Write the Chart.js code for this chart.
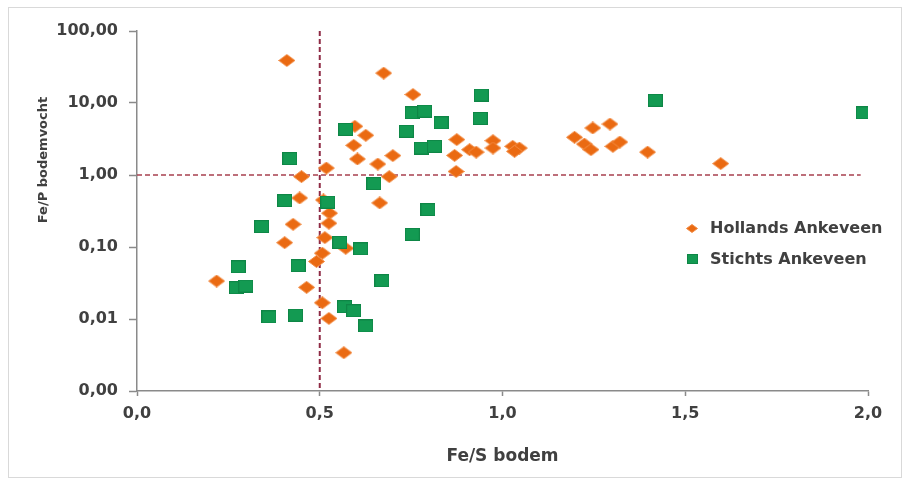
<!DOCTYPE html>
<html lang="nl">
<head>
  <meta charset="UTF-8" />
  <title>Fe/P bodemvocht vs Fe/S bodem</title>
  <style>
    html, body { margin: 0; padding: 0; background: #ffffff; }
    #wrap { width: 905px; height: 480px; position: relative; }
  </style>
</head>
<body>
  <div id="wrap"><canvas id="chart" width="905" height="480"></canvas></div>

  <script src="https://cdn.jsdelivr.net/npm/chart.js"></script>
  <script>
    // Gegevens
    const hollandsX = [0.41, 0.675, 0.755, 0.596, 0.626, 0.593, 0.603, 0.659, 0.70, 0.518, 0.45, 0.69,
      0.875, 0.869, 0.873, 0.91, 0.928, 0.974, 0.974, 1.028, 1.046, 1.033, 1.197, 1.247, 1.294, 1.224,
      1.242, 1.302, 1.321, 1.397, 1.597, 0.445, 0.664, 0.51, 0.527, 0.525, 0.427, 0.514, 0.404, 0.571,
      0.507, 0.491, 0.218, 0.464, 0.507, 0.525, 0.566];
    const hollandsY = [39, 26, 13.1, 4.75, 3.56, 2.58, 1.67, 1.42, 1.86, 1.25, 0.95, 0.95,
      3.1, 1.87, 1.12, 2.25, 2.08, 3.0, 2.37, 2.5, 2.37, 2.13, 3.34, 4.5, 5.1, 2.69,
      2.25, 2.5, 2.87, 2.08, 1.44, 0.48, 0.41, 0.45, 0.295, 0.214, 0.207, 0.135, 0.115, 0.096,
      0.082, 0.063, 0.0337, 0.0275, 0.0168, 0.0102, 0.0034];

    const stichtsX = [0.571, 0.418, 0.648, 0.404, 0.522, 0.942, 0.753, 0.787, 0.832, 0.939, 0.737,
      0.778, 0.814, 0.796, 0.753, 1.418, 1.987, 0.341, 0.555, 0.612, 0.277, 0.441, 0.272, 0.298,
      0.67, 0.568, 0.593, 0.361, 0.434, 0.626];
    const stichtsY = [4.3, 1.69, 0.76, 0.44, 0.42, 12.9, 7.3, 7.7, 5.3, 6.1, 4.05,
      2.37, 2.5, 0.33, 0.15, 10.9, 7.3, 0.192, 0.116, 0.094, 0.053, 0.055, 0.0272, 0.0287,
      0.034, 0.0148, 0.013, 0.0107, 0.0113, 0.008];

    // Grenswaarden (stippellijnen)
    const grensFeS = 0.5;
    const grensFeP = 1;
    const grensLijnX = [0, 1.98];
    const grensLijnY = [100, 0.001];

    // Aslabels
    const xTicks = [0, 0.5, 1.0, 1.5, 2.0];
    const yTicks = [0.001, 0.01, 0.1, 1, 10, 100];

    const oranje = '#EA6A12';
    const groen = '#139A52';
    const tekstKleur = '#404040';
    const asKleur = '#8a8a8a';
    const lijnKleur = '#8E2B45';

    // Markers als kleine canvasjes (ruit iets breder dan hoog)
    function maakRuit(w, h, vul, rand) {
      const c = document.createElement('canvas');
      c.width = w; c.height = h;
      const g = c.getContext('2d');
      g.beginPath();
      g.moveTo(w / 2, 0.5);
      g.lineTo(w - 0.5, h / 2);
      g.lineTo(w / 2, h - 0.5);
      g.lineTo(0.5, h / 2);
      g.closePath();
      g.fillStyle = vul;
      g.fill();
      g.strokeStyle = rand;
      g.lineWidth = 1;
      g.stroke();
      return c;
    }

    function maakVierkant(w, h, vul, rand) {
      const c = document.createElement('canvas');
      c.width = w; c.height = h;
      const g = c.getContext('2d');
      g.fillStyle = vul;
      g.fillRect(0, 0, w, h);
      g.strokeStyle = rand;
      g.lineWidth = 1;
      g.strokeRect(0.5, 0.5, w - 1, h - 1);
      return c;
    }

    const ruit = maakRuit(17, 13, oranje, '#F28C45');
    const vierkant = maakVierkant(15, 13, groen, '#0E8646');
    const ruitKlein = maakRuit(12, 9, oranje, '#F28C45');
    const vierkantKlein = maakVierkant(11, 10, groen, '#0E8646');

    const toPoints = (xs, ys) => xs.map((x, i) => ({ x: x, y: ys[i] }));
    const komma = (v, d) => Number(v).toFixed(d).replace('.', ',');

    // Kader, y-astitel en legenda
    const extras = {
      id: 'extras',
      beforeDraw(chart) {
        const ctx = chart.ctx;
        ctx.save();
        ctx.fillStyle = '#ffffff';
        ctx.fillRect(0, 0, chart.width, chart.height);
        ctx.strokeStyle = '#d9d9d9';
        ctx.lineWidth = 1;
        ctx.strokeRect(8.5, 7.5, 893, 470);
        ctx.restore();
      },
      afterDraw(chart) {
        const ctx = chart.ctx;
        const a = chart.chartArea;
        ctx.save();
        // y-astitel
        ctx.translate(44, 160);
        ctx.rotate(-Math.PI / 2);
        ctx.font = 'bold 13px "DejaVu Sans"';
        ctx.fillStyle = tekstKleur;
        ctx.textAlign = 'center';
        ctx.textBaseline = 'middle';
        ctx.fillText('Fe/P bodemvocht', 0, 0);
        ctx.restore();

        // legenda
        ctx.save();
        ctx.font = 'bold 16px "DejaVu Sans"';
        ctx.fillStyle = tekstKleur;
        ctx.textAlign = 'left';
        ctx.textBaseline = 'middle';
        const lx = a.left + 555;
        const items = [
          { img: ruitKlein, label: chart.data.datasets[1].label, y: a.top + 197 },
          { img: vierkantKlein, label: chart.data.datasets[0].label, y: a.top + 228 }
        ];
        items.forEach(it => {
          ctx.drawImage(it.img, Math.round(lx - it.img.width / 2), Math.round(it.y - it.img.height / 2));
          ctx.fillText(it.label, lx + 18, it.y + 1);
        });
        ctx.restore();
      }
    };

    new Chart(document.getElementById('chart'), {
      type: 'scatter',
      data: {
        datasets: [
          {
            label: 'Stichts Ankeveen',
            data: toPoints(stichtsX, stichtsY),
            pointStyle: vierkant,
            backgroundColor: groen,
            borderColor: groen,
            order: 0
          },
          {
            label: 'Hollands Ankeveen',
            data: toPoints(hollandsX, hollandsY),
            pointStyle: ruit,
            backgroundColor: oranje,
            borderColor: oranje,
            order: 1
          },
          {
            type: 'line',
            label: 'grens Fe/S',
            data: [{ x: grensFeS, y: grensLijnY[0] }, { x: grensFeS, y: grensLijnY[1] }],
            borderColor: lijnKleur,
            borderWidth: 2,
            borderDash: [5, 3],
            pointRadius: 0,
            fill: false,
            order: 3
          },
          {
            type: 'line',
            label: 'grens Fe/P',
            data: [{ x: grensLijnX[0], y: grensFeP }, { x: grensLijnX[1], y: grensFeP }],
            borderColor: '#A8404F',
            borderWidth: 1.5,
            borderDash: [5, 3],
            pointRadius: 0,
            fill: false,
            order: 2
          }
        ]
      },
      options: {
        responsive: false,
        animation: false,
        events: [],
        layout: { padding: { left: 24, top: 31, right: 37, bottom: 10 } },
        plugins: {
          legend: { display: false },
          tooltip: { enabled: false }
        },
        scales: {
          x: {
            type: 'linear',
            min: 0,
            max: 2,
            afterBuildTicks: s => { s.ticks = xTicks.map(v => ({ value: v })); },
            afterFit: s => { s.height = 79; },
            ticks: {
              callback: v => komma(v, 1),
              font: { family: '"DejaVu Sans"', size: 16, weight: 'bold' },
              color: tekstKleur,
              padding: 8,
              maxRotation: 0
            },
            grid: {
              drawOnChartArea: false,
              drawTicks: true,
              tickLength: 5,
              tickColor: asKleur,
              tickWidth: 1.5
            },
            border: { color: asKleur, width: 1.5 },
            title: {
              display: true,
              text: 'Fe/S bodem',
              font: { family: '"DejaVu Sans"', size: 17, weight: 'bold' },
              color: tekstKleur,
              padding: { top: 0, bottom: 3 }
            }
          },
          y: {
            type: 'logarithmic',
            min: 0.001,
            max: 100,
            afterBuildTicks: s => { s.ticks = yTicks.map(v => ({ value: v })); },
            afterFit: s => { s.width = 113; },
            ticks: {
              callback: v => komma(v, 2),
              font: { family: '"DejaVu Sans"', size: 16, weight: 'bold' },
              color: tekstKleur,
              padding: 11
            },
            grid: {
              drawOnChartArea: false,
              drawTicks: true,
              tickLength: 8,
              tickColor: asKleur,
              tickWidth: 1.5
            },
            border: { color: asKleur, width: 1.5 }
          }
        }
      },
      plugins: [extras]
    });
  </script>
</body>
</html>
